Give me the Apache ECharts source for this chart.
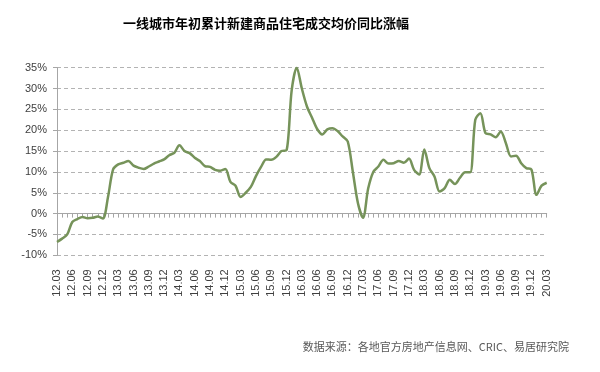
<!DOCTYPE html>
<html>
<head>
<meta charset="utf-8">
<script src="https://cdn.jsdelivr.net/npm/echarts@6/dist/echarts.min.js"></script>
<style>html,body{margin:0;padding:0;background:#fff;}#c{width:600px;height:372px;}</style>
</head>
<body>
<div id="c"></div>
<script>
// Months 2012.03 .. 2020.03
const categories = [];
for (let y = 12; y <= 20; y++) {
  for (let m = 1; m <= 12; m++) {
    if (y === 12 && m < 3) continue;
    if (y === 20 && m > 3) continue;
    categories.push(y + '.' + (m < 10 ? '0' + m : '' + m));
  }
}
const values = [
  -6.8, -6.0, -5.0, -2.0, -1.3, -0.8, -1.1, -1.0, -0.7, -1.2,
  4.0, 10.6, 11.8, 12.2, 12.6, 11.5, 11.0, 10.7, 11.3, 12.0,
  12.5, 13.0, 14.0, 14.6, 16.4, 15.0, 14.5, 13.4, 12.6, 11.4,
  11.2, 10.5, 10.3, 10.7, 7.6, 6.7, 4.0, 5.0, 6.4, 9.0,
  11.2, 13.0, 12.9, 13.6, 15.0, 15.2, 29.5, 35.0, 30.0, 25.7,
  23.0, 20.3, 19.0, 20.2, 20.5, 19.8, 18.5, 17.3, 10.0, 2.5,
  -1.0, 6.0, 10.0, 11.3, 12.9, 12.0, 12.1, 12.6, 12.2, 13.2,
  10.5, 9.4, 15.4, 10.9, 8.9, 5.3, 6.1, 8.1, 7.1, 8.6,
  9.9, 9.9, 22.5, 24.1, 19.3, 19.0, 18.3, 19.7, 16.9, 13.7,
  13.9, 12.1, 10.9, 10.6, 4.5, 6.7, 7.4
];
const yTicks = { min: -10, max: 35, interval: 5 };
const titleText = '一线城市年初累计新建商品住宅成交均价同比涨幅';
const sourceText = '数据来源：各地官方房地产信息网、CRIC、易居研究院';

const chart = echarts.init(document.getElementById('c'), null, { renderer: 'canvas' });
chart.setOption({
  backgroundColor: '#ffffff',
  animation: false,
  title: [{
    text: titleText,
    left: 118, top: 12,
    textStyle: { fontFamily: 'Noto Sans CJK SC', fontWeight: 'bold', fontSize: 13, color: '#000000' }
  }, {
    text: sourceText,
    right: 26, top: 336,
    textStyle: { fontFamily: 'Noto Sans CJK SC', fontWeight: 'normal', fontSize: 11, color: '#595959' }
  }],
  grid: { left: 57, right: 53.3, top: 67.7, bottom: 116.7, containLabel: false },
  xAxis: [{
    type: 'category', data: categories, boundaryGap: false, position: 'bottom',
    axisLine: { show: false }, axisTick: { show: false },
    axisLabel: { interval: 2, rotate: 90, margin: 14, fontSize: 11, color: '#404040', fontFamily: 'Liberation Sans' },
    splitLine: { show: false }
  }, {
    type: 'category', data: categories, boundaryGap: false, position: 'bottom',
    axisLine: { show: true, onZero: true, onZeroAxisIndex: 0, lineStyle: { color: '#a6a6a6', width: 1 } },
    axisTick: { show: true, interval: 0, length: 4, inside: false, lineStyle: { color: '#a6a6a6' } },
    axisLabel: { show: false }, splitLine: { show: false }
  }],
  yAxis: {
    type: 'value', min: yTicks.min, max: yTicks.max, interval: yTicks.interval,
    axisLine: { show: true, lineStyle: { color: '#a6a6a6' } },
    axisTick: { show: true, length: 4, lineStyle: { color: '#a6a6a6' } },
    axisLabel: { formatter: '{value}%', fontSize: 11, color: '#404040', margin: 10, fontFamily: 'Liberation Sans' },
    splitLine: { show: true, lineStyle: { color: '#b3b3b3', type: [4, 3], width: 1 } }
  },
  series: [{
    type: 'line', data: values, xAxisIndex: 0, smooth: 0.3, symbol: 'none',
    lineStyle: { color: '#76935a', width: 2.5 }
  }]
});
</script>
</body>
</html>
